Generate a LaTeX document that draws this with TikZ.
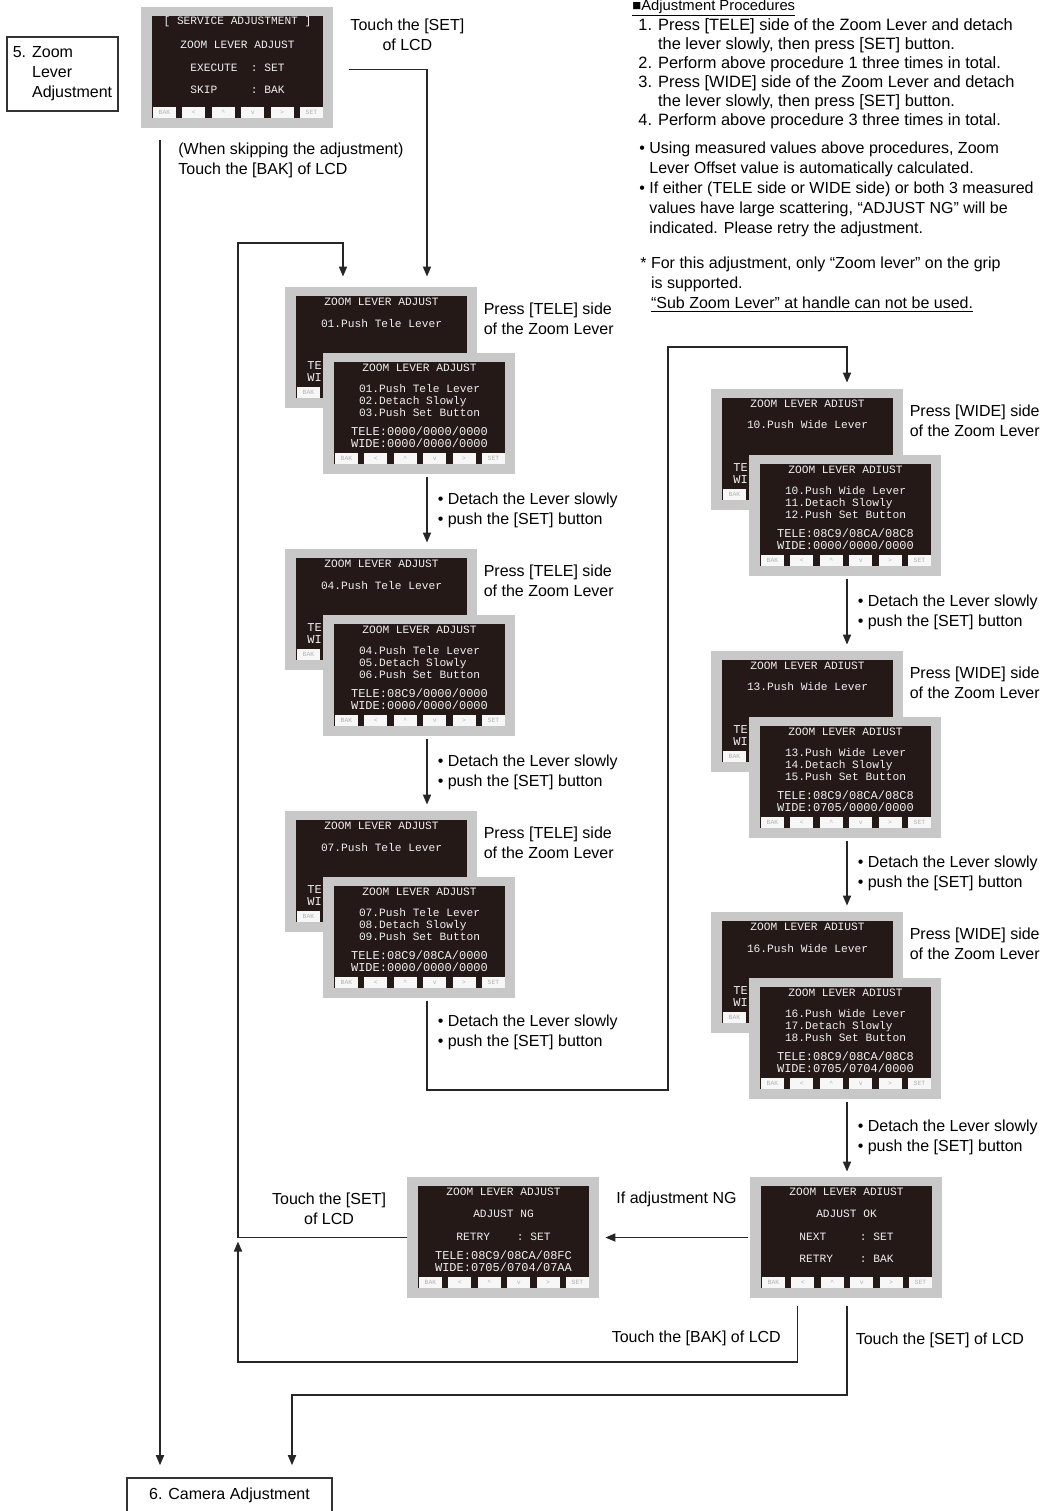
\documentclass[tikz,border=0pt]{standalone}
\usepackage{fontspec}
\setmainfont{Liberation Sans}
\newfontfamily\lcdfont{Liberation Mono}
\usetikzlibrary{arrows.meta,positioning}

\definecolor{lcdgray}{HTML}{C8C8C8}
\definecolor{lcddark}{HTML}{241916}

\tikzset{
  lcdframe/.style={rectangle,fill=lcdgray,minimum width=96pt,minimum height=60.5pt,inner sep=0pt},
  lcdback/.style={fill=lcddark},
  lcdkey/.style={fill=gray!6,minimum width=11.5pt,minimum height=5.5pt,inner sep=0pt,text=gray!60,font=\lcdfont\fontsize{3.2}{3.2}\selectfont},
  lcdtxt/.style={text=gray!12,inner sep=0pt,font=\lcdfont\fontsize{5.6}{6}\selectfont},
  lcddata/.style={lcdtxt,align=center,font=\lcdfont\fontsize{6}{5.8}\selectfont},
  lbl/.style={inner sep=0pt,font=\fontsize{8}{10}\selectfont},
  hint/.style={lbl,align=left,anchor=west,xshift=5pt},
  box/.style={draw=black!80,line width=0.8pt,inner sep=0pt,font=\fontsize{8}{10}\selectfont},
  flow/.style={draw=black!85,line width=0.8pt,-{Triangle[length=5pt,width=4pt]}},
}

% one LCD panel: [keys], name, top left corner, contents
\newcommand\lcd[4][0/BAK,1/<,2/\textasciicircum,3/v,4/>,5/SET]{%
  \begin{scope}[shift={(#3)}]
    \node[lcdframe] (#2) at (96,60.5) {};
    \fill[lcdback] (11,9) rectangle (182,111);
    \foreach \kk/\kt in {#1}
      \node[lcdkey] at (23.5+29.4*\kk,105.5) {\kt};
    #4
  \end{scope}}

\newcommand\lcdtitle{ZOOM LEVER ADJUST}

% two stacked panels of one step (the back one is mostly hidden)
\newcommand\lcdpair[8]{%
  \begin{scope}[shift={(#2)}]
    \lcd[0/BAK]{#1b}{0,0}{%
      \node[lcdtxt] at (96.5,15) {\lcdtitle};
      \node[lcdtxt] at (96.5,36) {#3.Push #6 Lever};
      \node[lcddata,align=left,anchor=west] at (22,84.5) {TE\\WI};}
    \lcd{#1f}{38,66}{%
      \node[lcdtxt] at (96.5,15) {\lcdtitle};
      \node[lcdtxt,align=left] at (96.5,47) {#3.Push #6 Lever\\#4.Detach Slowly\\#5.Push Set Button};
      \node[lcddata] at (96.5,84) {TELE:#7\\WIDE:#8};}
  \end{scope}}

\begin{document}
\begin{tikzpicture}[x=0.5pt,y=-0.5pt]
\useasboundingbox (0,0) rectangle (1047,1511);

\node[box,minimum width=55.5pt,minimum height=37pt,align=left] (start) at (62.5,74) {5. Zoom\\\phantom{5. }Lever\\\phantom{5. }Adjustment};
\node[box,minimum width=102.5pt,minimum height=17pt] (cam) at (229.5,1495) {6. Camera Adjustment};

% screens
\lcd{svc}{141,7}{%
  \node[lcdtxt] at (96.5,15) {[ SERVICE ADJUSTMENT ]};
  \node[lcdtxt] at (96.5,38) {ZOOM LEVER ADJUST};
  \node[lcdtxt] at (96.5,61) {EXECUTE~~:~SET};
  \node[lcdtxt] at (96.5,83) {SKIP~~~~~:~BAK};}
\lcdpair{t1}{285,287}{01}{02}{03}{Tele}{0000/0000/0000}{0000/0000/0000}
\lcdpair{t2}{285,549}{04}{05}{06}{Tele}{08C9/0000/0000}{0000/0000/0000}
\lcdpair{t3}{285,811}{07}{08}{09}{Tele}{08C9/08CA/0000}{0000/0000/0000}
\renewcommand\lcdtitle{ZOOM LEVER ADIUST}
\lcdpair{w1}{711,389}{10}{11}{12}{Wide}{08C9/08CA/08C8}{0000/0000/0000}
\lcdpair{w2}{711,651}{13}{14}{15}{Wide}{08C9/08CA/08C8}{0705/0000/0000}
\lcdpair{w3}{711,912}{16}{17}{18}{Wide}{08C9/08CA/08C8}{0705/0704/0000}
\lcd{okscr}{750,1177}{%
  \node[lcdtxt] at (96.5,15) {\lcdtitle};
  \node[lcdtxt] at (96.5,37) {ADJUST OK};
  \node[lcdtxt] at (96.5,60) {NEXT~~~~~:~SET};
  \node[lcdtxt] at (96.5,82) {RETRY~~~~:~BAK};}
\lcd{ngscr}{407,1177}{%
  \node[lcdtxt] at (96.5,15) {ZOOM LEVER ADJUST};
  \node[lcdtxt] at (96.5,37) {ADJUST NG};
  \node[lcdtxt] at (96.5,60) {RETRY~~~~:~SET};
  \node[lcddata] at (96.5,84) {TELE:08C9/08CA/08FC\\WIDE:0705/0704/07AA};}

\foreach \s/\w in {t1b/TELE,t2b/TELE,t3b/TELE,w1b/WIDE,w2b/WIDE,w3b/WIDE}
  \node[lbl,align=left,anchor=north west] at ([xshift=3pt,yshift=-8pt]\s.north east) {Press [\w] side\\of the Zoom Lever};

% connectors
\coordinate (colA) at (427,0);
\coordinate (colB) at (847,0);
\coordinate (colS) at (160,0);
\coordinate (colL) at (343,0);
\coordinate (loopTL) at (238,243);
\coordinate (loopBL) at (238,1362);
\coordinate (bendA) at (427,1090);
\coordinate (bendB) at (668,347);
\coordinate (finSET) at (292,1395);

\draw[flow] ([xshift=8pt,yshift=-1pt]svc.east) -| ([yshift=5pt]t1b.north -| colA);
\node[lbl,align=center,anchor=north] at ([xshift=37pt,yshift=-6pt]svc.north east) {Touch the [SET]\\of LCD};
\draw[flow] ([yshift=-6pt]svc.south -| colS) -- ([yshift=6pt]cam.north -| colS);
\node[lbl,align=left,anchor=north west] at ([xshift=9pt,yshift=-7pt]svc.south -| colS) {(When skipping the adjustment)\\Touch the [BAK] of LCD};

\draw[flow] ([yshift=-1.5pt]t1f.south -| colA) -- node[hint]{• Detach the Lever slowly\\• push the [SET] button} ([yshift=3pt]t2b.north -| colA);
\draw[flow] ([yshift=-1.5pt]t2f.south -| colA) -- node[hint]{• Detach the Lever slowly\\• push the [SET] button} ([yshift=3pt]t3b.north -| colA);
\draw[flow] ([yshift=-1.5pt]t3f.south -| colA) -- node[hint,pos=0.35]{• Detach the Lever slowly\\• push the [SET] button} (bendA) -| (bendB) -| ([yshift=3pt]w1b.north -| colB);
\draw[flow] ([yshift=-1.5pt]w1f.south -| colB) -- node[hint]{• Detach the Lever slowly\\• push the [SET] button} ([yshift=3pt]w2b.north -| colB);
\draw[flow] ([yshift=-1.5pt]w2f.south -| colB) -- node[hint]{• Detach the Lever slowly\\• push the [SET] button} ([yshift=3pt]w3b.north -| colB);
\draw[flow] ([yshift=-1.5pt]w3f.south -| colB) -- node[hint]{• Detach the Lever slowly\\• push the [SET] button} ([yshift=2.5pt]okscr.north -| colB);

\draw[flow] ([xshift=-1pt]okscr.west) -- node[lbl,above=15pt]{If adjustment NG} ([xshift=3pt]ngscr.east);
\draw[flow] (ngscr.west) -| node[lbl,align=center,pos=0.23,above=6pt]{Touch the [SET]\\of LCD} (loopTL) -| ([yshift=5pt]t1b.north -| colL);
\draw[flow] ([xshift=24pt,yshift=-4pt]okscr.south west) |- node[lbl,pos=0.29,left=8pt]{Touch the [BAK] of LCD} (loopBL) -- ([yshift=-2pt]ngscr.west -| loopBL);
\draw[flow] ([yshift=-4pt]okscr.south -| colB) |- node[lbl,pos=0.19,right=4pt]{Touch the [SET] of LCD} (finSET) -- ([yshift=6pt]cam.north -| finSET);

% procedure notes
\node[lbl,anchor=base west,font=\fontsize{7.4}{9}\selectfont] (proctitle) at (632,10) {\underline{■Adjustment Procedures}};
\node[lbl,align=left,anchor=north west,font=\fontsize{8.2}{9.5}\selectfont] (proclist) at (638,18) {1. Press [TELE] side of the Zoom Lever and detach\\\phantom{1. }the lever slowly, then press [SET] button.\\2. Perform above procedure 1 three times in total.\\3. Press [WIDE] side of the Zoom Lever and detach\\\phantom{3. }the lever slowly, then press [SET] button.\\4. Perform above procedure 3 three times in total.};
\node[lbl,align=left,anchor=north west] (notes) at (639,141) {• Using measured values above procedures, Zoom\\\phantom{• }Lever Offset value is automatically calculated.\\• If either (TELE side or WIDE side) or both 3 measured\\\phantom{• }values have large scattering, “ADJUST NG” will be\\\phantom{• }indicated. Please retry the adjustment.};
\node[lbl,align=left,anchor=north west] (grip) at (640,256) {* For this adjustment, only “Zoom lever” on the grip\\\phantom{* }is supported.\\\phantom{* }\underline{“Sub Zoom Lever” at handle can not be used.}};
\end{tikzpicture}
\end{document}
